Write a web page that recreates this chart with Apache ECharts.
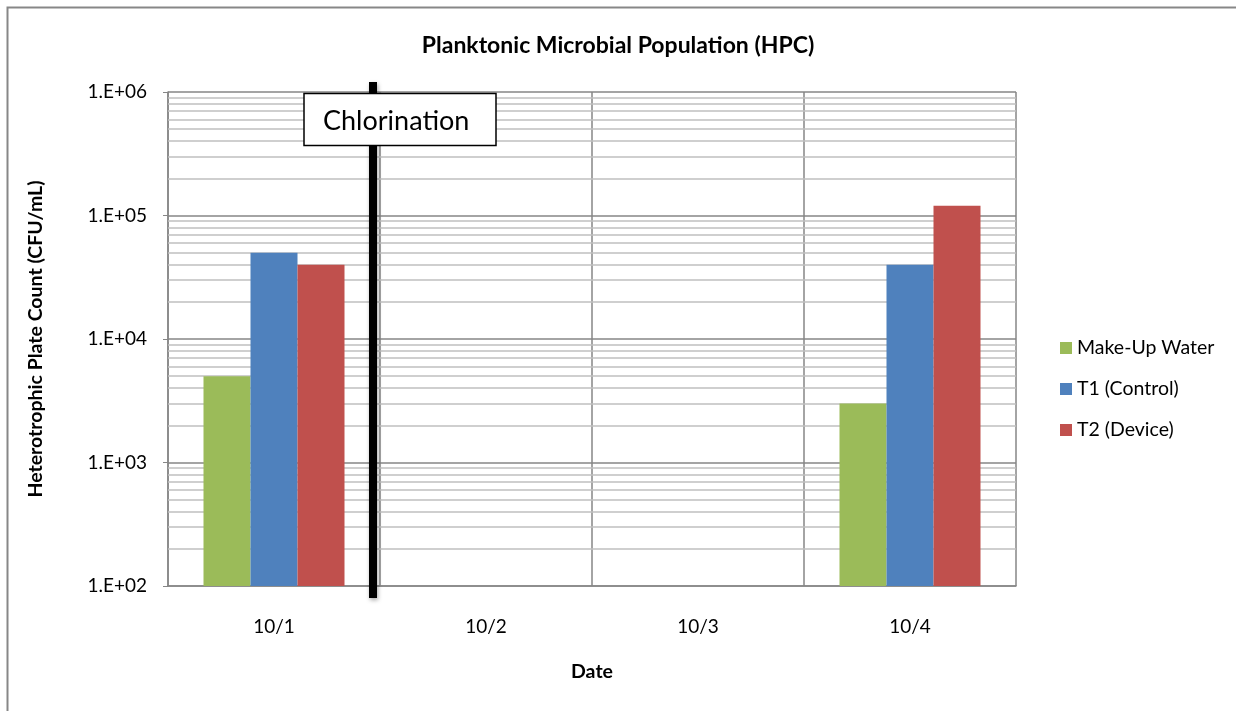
<!DOCTYPE html>
<html>
<head>
<meta charset="utf-8">
<script src="https://cdn.jsdelivr.net/npm/echarts@6/dist/echarts.min.js"></script>
<style>
  html, body { margin: 0; padding: 0; background: #fff; }
  #chart { width: 1236px; height: 711px; }
</style>
</head>
<body>
<div id="chart"></div>
<script>
const categories = ['10/1', '10/2', '10/3', '10/4']
const makeUpWater = [5000, null, null, 3000]
const t1Control = [50000, null, null, 40000]
const t2Device = [40000, null, null, 120000]
const tickLabels = ['1.E+02', '1.E+03', '1.E+04', '1.E+05', '1.E+06']
const decades = [100, 1000, 10000, 100000]
const minorSteps = [2, 3, 4, 5, 6, 7, 8, 9]

const font = 'Lato, "Open Sans", sans-serif'

// minor log gridlines at 2..9 x each decade
const minorLines = []
decades.forEach(d => minorSteps.forEach(m => minorLines.push({ yAxis: d * m })))

const chart = echarts.init(document.getElementById('chart'))
const option = {
  animation: false,
  backgroundColor: '#fff',
  title: {
    text: 'Planktonic Microbial Population (HPC)',
    left: 'center',
    top: 29,
    textStyle: { fontFamily: font, fontSize: 23, fontWeight: 'bold', color: '#000' }
  },
  legend: {
    orient: 'vertical',
    left: 1055,
    top: 333,
    itemWidth: 12,
    itemHeight: 12,
    itemGap: 21,
    icon: 'rect',
    textStyle: { fontFamily: font, fontSize: 19.5, color: '#000' },
    data: ['Make-Up Water', 'T1 (Control)', 'T2 (Device)']
  },
  grid: { left: 168, top: 92, right: 220, bottom: 125 },
  xAxis: {
    type: 'category',
    data: categories,
    name: 'Date',
    nameLocation: 'middle',
    nameGap: 76,
    nameTextStyle: { fontFamily: font, fontSize: 19.5, fontWeight: 'bold', color: '#000' },
    axisLine: { lineStyle: { color: '#868686', width: 1.5 } },
    axisTick: { show: false },
    axisLabel: { fontFamily: font, fontSize: 19, color: '#000', margin: 31 },
    splitLine: { show: true, lineStyle: { color: '#868686', width: 1.5 } }
  },
  yAxis: {
    type: 'log',
    logBase: 10,
    min: 100,
    max: 1000000,
    name: 'Heterotrophic Plate Count (CFU/mL)',
    nameLocation: 'middle',
    nameGap: 122,
    nameTextStyle: { fontFamily: font, fontSize: 19.5, fontWeight: 'bold', color: '#000' },
    axisLine: { show: true, lineStyle: { color: '#868686', width: 1.5 } },
    axisTick: { show: true, inside: false, length: 5, lineStyle: { color: '#868686' } },
    axisLabel: {
      fontFamily: font, fontSize: 19, color: '#000', margin: 21,
      formatter: v => tickLabels[Math.round(Math.log10(v)) - 2]
    },
    splitLine: { show: true, lineStyle: { color: '#868686', width: 1.5 } }
  },
  series: [
    {
      name: 'Make-Up Water', type: 'bar', data: makeUpWater,
      barWidth: 47, barGap: '0%',
      itemStyle: { color: '#9BBB59' },
      markLine: {
        silent: true, symbol: 'none', label: { show: false },
        lineStyle: { color: '#BFBFBF', width: 1.5, type: 'solid' },
        data: minorLines,
        z: 1
      }
    },
    { name: 'T1 (Control)', type: 'bar', data: t1Control, barWidth: 47, barGap: '0%', itemStyle: { color: '#4F81BD' } },
    { name: 'T2 (Device)', type: 'bar', data: t2Device, barWidth: 47, barGap: '0%', itemStyle: { color: '#C0504D' } }
  ],
  graphic: [
    {
      type: 'rect', z: -10, silent: true,
      shape: { x: 7.5, y: 7.5, width: 1260, height: 740 },
      style: { fill: 'none', stroke: '#878787', lineWidth: 2 }
    },
    {
      type: 'rect', z: 100, silent: true,
      shape: { x: 369, y: 82, width: 8, height: 516 },
      style: { fill: '#000', shadowBlur: 4, shadowColor: 'rgba(0,0,0,0.35)', shadowOffsetX: 1, shadowOffsetY: 2 }
    },
    {
      type: 'rect', z: 101, silent: true,
      shape: { x: 304, y: 93.5, width: 192, height: 52 },
      style: { fill: '#fff', stroke: '#000', lineWidth: 1.5 }
    },
    {
      type: 'text', z: 102, silent: true,
      left: 323, top: 108,
      style: { text: 'Chlorination', font: '27px ' + font, fill: '#000' }
    }
  ]
}
chart.setOption(option)
</script>
</body>
</html>
